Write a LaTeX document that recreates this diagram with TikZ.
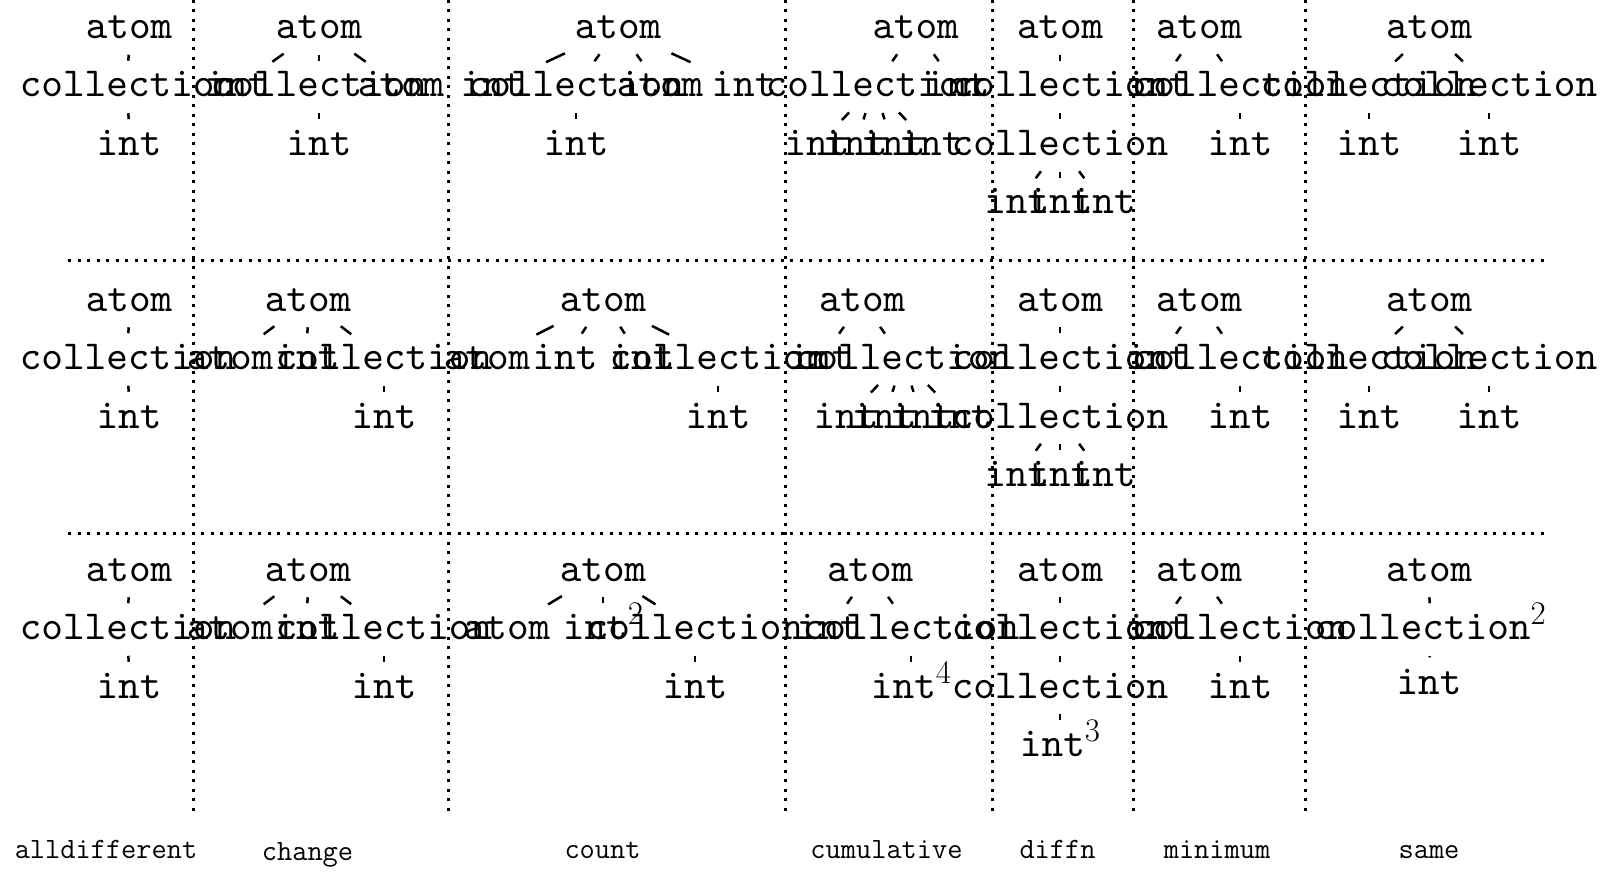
\documentclass[tikz,border=0pt]{standalone}
\usepackage{fontspec}
\usetikzlibrary{calc}
\font\tttree=cmtt10 at 20.6pt
\tikzset{
  tn/.style={font=\tttree, inner sep=0pt, text height=14pt, text depth=4pt},
  lab/.style={font=\fontsize{14.76}{16}\selectfont\ttfamily, inner sep=0pt, text height=10.5pt, text depth=3pt},
  edgetk/.style={line width=1.25pt, shorten <=1.25pt, shorten >=1.25pt},
  sepline/.style={line width=1.5pt, dash pattern=on 1.5pt off 3.25pt},
}
\newcommand\tk[2]{\draw[edgetk] ($(#1)!0.406!(#2)$) -- ($(#1)!0.594!(#2)$);}
\newcommand\sq[1]{\raisebox{7.5pt}{\fontsize{16.5}{16.5}\selectfont\rmfamily #1}}
% alldifferent
\newcommand\colA[2]{%
  \node[tn] (#1a) at (129,#2) {atom};
  \node[tn] (#1b) at (128,#2+58.5) {collection};
  \node[tn] (#1c) at (129,#2+117) {int};
  \tk{#1a}{#1b}\tk{#1b}{#1c}}
% change (rows 2 and 3)
\newcommand\colB[2]{%
  \node[tn] (#1a) at (308,#2) {atom};
  \node[tn] (#1b) at (230,#2+58.5) {atom};
  \node[tn] (#1c) at (307,#2+58.5) {int};
  \node[tn] (#1d) at (384,#2+58.5) {collection};
  \node[tn] (#1e) at (384,#2+117) {int};
  \tk{#1a}{#1b}\tk{#1a}{#1c}\tk{#1a}{#1d}\tk{#1d}{#1e}}
% diffn (rows 1 and 2)
\newcommand\colE[2]{%
  \node[tn] (#1a) at (1060,#2) {atom};
  \node[tn] (#1b) at (1060,#2+58.5) {collection};
  \node[tn] (#1c) at (1060,#2+117) {collection};
  \node[tn] (#1d) at (1016.7,#2+175.5) {int};
  \node[tn] (#1e) at (1060,#2+175.5) {int};
  \node[tn] (#1f) at (1103.3,#2+175.5) {int};
  \tk{#1a}{#1b}\tk{#1b}{#1c}\tk{#1c}{#1d}\tk{#1c}{#1e}\tk{#1c}{#1f}}
% minimum
\newcommand\colF[2]{%
  \node[tn] (#1a) at (1199,#2) {atom};
  \node[tn] (#1b) at (1158,#2+58.5) {int};
  \node[tn] (#1c) at (1240,#2+58.5) {collection};
  \node[tn] (#1d) at (1240,#2+117) {int};
  \tk{#1a}{#1b}\tk{#1a}{#1c}\tk{#1c}{#1d}}
% same (rows 1 and 2)
\newcommand\colG[2]{%
  \node[tn] (#1a) at (1429,#2) {atom};
  \node[tn] (#1b) at (1369,#2+58.5) {collection};
  \node[tn] (#1c) at (1489,#2+58.5) {collection};
  \node[tn] (#1d) at (1369,#2+117) {int};
  \node[tn] (#1e) at (1489,#2+117) {int};
  \tk{#1a}{#1b}\tk{#1a}{#1c}\tk{#1b}{#1d}\tk{#1c}{#1e}}
\begin{document}
\begin{tikzpicture}[x=0.5pt,y=-0.5pt]
\useasboundingbox (0,0) rectangle (1611,882);
% separators
\foreach \xx in {193.5,448,785,992,1133,1305}
  \draw[sepline] (\xx,0) -- (\xx,811);
\foreach \yy in {261,533}
  \draw[sepline] (68,\yy) -- (1549,\yy);
\begin{scope}[yshift=-1.5pt]
% ---------- row 1 ----------
\colA{ra}{25.5}
\node[tn] (ra2a) at (319,25.5) {atom};
\node[tn] (ra2b) at (237,84) {int};
\node[tn] (ra2c) at (319,84) {collection};
\node[tn] (ra2d) at (401,84) {atom};
\node[tn] (ra2e) at (319,142.5) {int};
\tk{ra2a}{ra2b}\tk{ra2a}{ra2c}\tk{ra2a}{ra2d}\tk{ra2c}{ra2e}
\node[tn] (ra3a) at (618,25.5) {atom};
\node[tn] (ra3b) at (493,84) {int};
\node[tn] (ra3c) at (576,84) {collection};
\node[tn] (ra3d) at (660,84) {atom};
\node[tn] (ra3e) at (744,84) {int};
\node[tn] (ra3f) at (576,142.5) {int};
\tk{ra3a}{ra3b}\tk{ra3a}{ra3c}\tk{ra3a}{ra3d}\tk{ra3a}{ra3e}\tk{ra3c}{ra3f}
\node[tn] (ra4a) at (915.5,25.5) {atom};
\node[tn] (ra4b) at (874,84) {collection};
\node[tn] (ra4c) at (957,84) {int};
\node[tn] (ra4d) at (817,142.5) {int};
\node[tn] (ra4e) at (855,142.5) {int};
\node[tn] (ra4f) at (893,142.5) {int};
\node[tn] (ra4g) at (931,142.5) {int};
\tk{ra4a}{ra4b}\tk{ra4a}{ra4c}\tk{ra4b}{ra4d}\tk{ra4b}{ra4e}\tk{ra4b}{ra4f}\tk{ra4b}{ra4g}
\colE{ra5}{25.5}
\colF{ra6}{25.5}
\colG{ra7}{25.5}
% ---------- row 2 ----------
\colA{rb}{298}
\colB{rb2}{298}
\node[tn] (rb3a) at (603,298) {atom};
\node[tn] (rb3b) at (487,356.5) {atom};
\node[tn] (rb3c) at (565,356.5) {int};
\node[tn] (rb3d) at (642,356.5) {int};
\node[tn] (rb3e) at (718,356.5) {collection};
\node[tn] (rb3f) at (718,415) {int};
\tk{rb3a}{rb3b}\tk{rb3a}{rb3c}\tk{rb3a}{rb3d}\tk{rb3a}{rb3e}\tk{rb3e}{rb3f}
\node[tn] (rb4a) at (862,298) {atom};
\node[tn] (rb4b) at (821,356.5) {int};
\node[tn] (rb4c) at (903,356.5) {collection};
\node[tn] (rb4d) at (846,415) {int};
\node[tn] (rb4e) at (884,415) {int};
\node[tn] (rb4f) at (922,415) {int};
\node[tn] (rb4g) at (960,415) {int};
\tk{rb4a}{rb4b}\tk{rb4a}{rb4c}\tk{rb4c}{rb4d}\tk{rb4c}{rb4e}\tk{rb4c}{rb4f}\tk{rb4c}{rb4g}
\colE{rb5}{298}
\colF{rb6}{298}
\colG{rb7}{298}
% ---------- row 3 ----------
\colA{rc}{568}
\colB{rc2}{568}
\node[tn] (rc3a) at (603,568) {atom};
\node[tn] (rc3b) at (507,626.5) {atom};
\node[tn] (rc3c) at (603,626.5) {int\sq{2}};
\node[tn] (rc3d) at (695,626.5) {collection};
\node[tn] (rc3e) at (695,685) {int};
\tk{rc3a}{rc3b}\tk{rc3a}{rc3c}\tk{rc3a}{rc3d}\tk{rc3d}{rc3e}
\node[tn] (rc4a) at (870,568) {atom};
\node[tn] (rc4b) at (829,626.5) {int};
\node[tn] (rc4c) at (911,626.5) {collection};
\node[tn] (rc4d) at (911,685) {int\sq{4}};
\tk{rc4a}{rc4b}\tk{rc4a}{rc4c}\tk{rc4c}{rc4d}
\node[tn] (rc5a) at (1060,568) {atom};
\node[tn] (rc5b) at (1060,626.5) {collection};
\node[tn] (rc5c) at (1060,685) {collection};
\node[tn] (rc5d) at (1060,743.5) {int\sq{3}};
\tk{rc5a}{rc5b}\tk{rc5b}{rc5c}\tk{rc5c}{rc5d}
\colF{rc6}{568}
\node[tn] (rc7a) at (1429,568) {atom};
\node[tn] (rc7b) at (1430,626.5) {collection\sq{2}};
\node[tn] (rc7c) at (1429,681) {int};
\tk{rc7a}{rc7b}
\draw[edgetk, shorten <=2.2pt, shorten >=2.2pt] ($(rc7b)!0.406!(rc7c)$) -- ($(rc7b)!0.594!(rc7c)$);
\end{scope}
% ---------- labels ----------
\node[lab] (l1) at (106,851) {alldifferent};
\node[lab] (l2) at (307.5,853) {change};
\node[lab] (l3) at (602.5,851) {count};
\node[lab] (l4) at (886.5,851) {cumulative};
\node[lab] (l5) at (1057.5,851) {diffn};
\node[lab] (l6) at (1217,851) {minimum};
\node[lab] (l7) at (1429,851) {same};
\end{tikzpicture}
\end{document}
